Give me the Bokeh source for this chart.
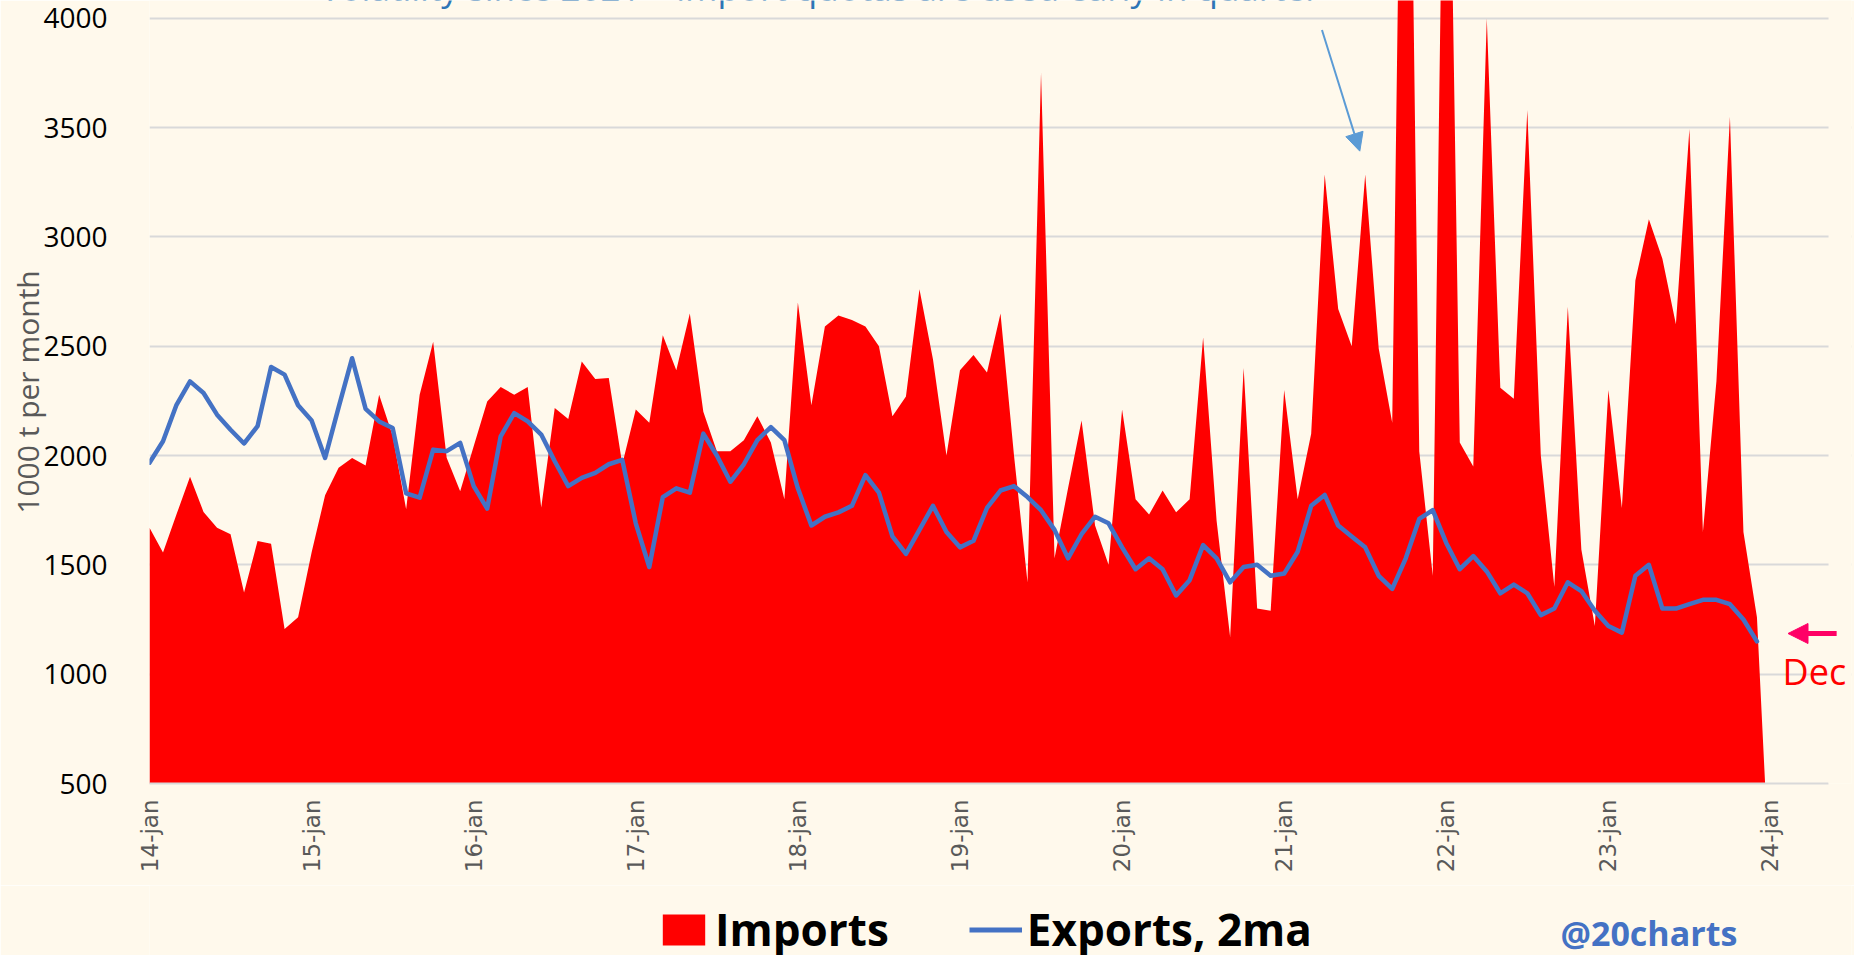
import math
from bokeh.plotting import figure
from bokeh.layouts import column
from bokeh.models import (Range1d, FixedTicker, Legend, LegendItem, Label,
                          Arrow, NormalHead, BoxAnnotation)
from bokeh.embed import file_html
from bokeh.resources import INLINE

# ---- data (1000 t per month), monthly Jan 2014 .. Dec 2023 (+ Jan 2024 empty) ----
months = list(range(121))
imports = [
    1670, 1557, 1731, 1903, 1742, 1670, 1640, 1374, 1609, 1597, 1207, 1260,   # 2014
    1557, 1818, 1944, 1989, 1954, 2278, 2090, 1754, 2278, 2520, 1990, 1837,   # 2015
    2042, 2247, 2313, 2278, 2313, 1762, 2217, 2167, 2430, 2350, 2355, 1960,   # 2016
    2210, 2150, 2550, 2390, 2650, 2200, 2020, 2020, 2070, 2180, 2060, 1800,   # 2017
    2700, 2230, 2590, 2640, 2620, 2590, 2500, 2180, 2270, 2760, 2440, 2000,   # 2018
    2390, 2460, 2380, 2650, 2000, 1420, 3750, 1530, 1850, 2160, 1680, 1500,   # 2019
    2210, 1800, 1730, 1840, 1740, 1800, 2540, 1700, 1170, 2400, 1300, 1290,   # 2020
    2300, 1800, 2100, 3285, 2670, 2500, 3285, 2490, 2150, 6800, 2020, 1450,   # 2021
    6000, 2060, 1950, 4000, 2310, 2260, 3580, 2000, 1400, 2680, 1570, 1220,   # 2022
    2300, 1760, 2800, 3080, 2900, 2600, 3493, 1650, 2340, 3549, 1650, 1260,   # 2023
    0,                                                                        # 2024-01
]
exports_2ma = [
    1967, 2065, 2232, 2339, 2286, 2187, 2118, 2055, 2134, 2405, 2370, 2230,
    2160, 1989, 2220, 2445, 2213, 2156, 2126, 1827, 1807, 2027, 2020, 2058,
    1860, 1757, 2088, 2194, 2156, 2096, 1974, 1860, 1898, 1921, 1960, 1980,
    1690, 1490, 1810, 1850, 1830, 2100, 2000, 1880, 1960, 2070, 2130, 2070,
    1850, 1680, 1720, 1740, 1770, 1910, 1830, 1630, 1550, 1660, 1770, 1650,
    1580, 1610, 1760, 1840, 1860, 1810, 1750, 1660, 1530, 1640, 1720, 1690,
    1580, 1480, 1530, 1480, 1360, 1430, 1590, 1530, 1420, 1490, 1500, 1450,
    1460, 1560, 1770, 1820, 1680, 1630, 1580, 1450, 1390, 1530, 1710, 1750,
    1600, 1480, 1540, 1470, 1370, 1410, 1370, 1270, 1300, 1420, 1380, 1290,
    1220, 1190, 1450, 1500, 1300, 1300, 1320, 1340, 1340, 1320, 1250, 1150,
]
year_ticks = [0, 12, 24, 36, 48, 60, 72, 84, 96, 108, 120]
year_labels = ["14-jan", "15-jan", "16-jan", "17-jan", "18-jan", "19-jan",
               "20-jan", "21-jan", "22-jan", "23-jan", "24-jan"]
y_ticks = [500, 1000, 1500, 2000, 2500, 3000, 3500, 4000]

BG = "#FFF9EC"
AXIS_END = 124.3

p = figure(width=1854, height=885, output_backend="svg", toolbar_location=None,
           x_range=Range1d(0, 126.0), y_range=Range1d(500, 4081),
           background_fill_color=BG, border_fill_color=BG,
           min_border_top=0, min_border_left=149, min_border_right=3,
           min_border_bottom=102, outline_line_color=None)

area = p.varea(x=months, y1=0, y2=imports, fill_color="#FF0000", fill_alpha=1)
line = p.line(x=months[:120], y=exports_2ma, line_color="#4472C4", line_width=4.5,
              line_join="round", line_cap="round")

# axes
p.xgrid.grid_line_color = None
p.ygrid.grid_line_color = "#D9D9D9"
p.ygrid.grid_line_width = 2
p.yaxis.ticker = FixedTicker(ticks=y_ticks)
p.yaxis.axis_line_color = None
p.yaxis.major_tick_line_color = None
p.yaxis.minor_tick_line_color = None
p.yaxis.major_label_standoff = 36
p.yaxis.major_label_text_font = "Open Sans"
p.yaxis.major_label_text_font_size = "28px"
p.yaxis.major_label_text_color = "#000000"
p.yaxis.axis_label = "1000 t per month"
p.yaxis.axis_label_text_font = "Open Sans"
p.yaxis.axis_label_text_font_style = "normal"
p.yaxis.axis_label_text_font_size = "30px"
p.yaxis.axis_label_text_color = "#595959"
p.yaxis.axis_label_standoff = -8

p.xaxis.ticker = FixedTicker(ticks=year_ticks)
p.xaxis.bounds = (0, AXIS_END)
p.xaxis.major_label_overrides = {t: l for t, l in zip(year_ticks, year_labels)}
p.xaxis.major_label_orientation = math.pi / 2
p.xaxis.major_label_text_font = "DejaVu Sans"
p.xaxis.major_label_text_font_size = "23px"
p.xaxis.major_label_text_color = "#595959"
p.xaxis.major_label_standoff = 10
p.xaxis.major_tick_line_color = None
p.xaxis.minor_tick_line_color = None
p.xaxis.axis_line_color = "#D9D9D9"
p.xaxis.axis_line_width = 2

# blank strip right of the plot area (gridlines stop at the axis end)
p.add_layout(BoxAnnotation(left=AXIS_END, fill_color=BG, fill_alpha=1, line_color=None))

# annotations
p.add_layout(Label(x=12.6, y=796, y_units="screen",
                   text="Volatility since 2021 \u2013 import quotas are used early in quarter",
                   text_font="Open Sans", text_font_size="35px", text_color="#2E75B6",
                   text_baseline="alphabetic"))
p.add_layout(Arrow(x_start=86.8, y_start=3946, x_end=89.6, y_end=3392,
                   line_color="#5B9BD5", line_width=2,
                   end=NormalHead(size=18, fill_color="#5B9BD5", line_color="#5B9BD5")))
p.add_layout(Arrow(x_start=124.9, y_start=1186, x_end=121.3, y_end=1186,
                   line_color="#FF0066", line_width=5,
                   end=NormalHead(size=20, fill_color="#FF0066", line_color="#FF0066")))
p.add_layout(Label(x=120.9, y=1013, text="Dec", text_font="Open Sans",
                   text_font_size="36px", text_color="#FF0000",
                   text_baseline="middle"))

# ---- bottom strip: legend and signature ----
p2 = figure(width=1854, height=70, output_backend="svg", toolbar_location=None,
            x_range=Range1d(0, 1854), y_range=Range1d(0, 70),
            x_axis_type=None, y_axis_type=None,
            background_fill_color=BG, border_fill_color=BG,
            min_border=0, outline_line_color=None)
p2.grid.visible = False
leg_area = p2.varea(x=months, y1=0, y2=imports, fill_color="#FF0000", fill_alpha=1,
                    visible=False)
leg_line = p2.line(x=months[:120], y=exports_2ma, line_color="#4472C4", line_width=5,
                   visible=False)
legend = Legend(items=[LegendItem(label="Imports", renderers=[leg_area]),
                       LegendItem(label="Exports, 2ma", renderers=[leg_line])],
                orientation="horizontal", location=(508, -4),
                label_text_font="Open Sans", label_text_font_style="bold",
                label_text_font_size="44px", label_text_color="#000000",
                glyph_width=53, glyph_height=39, label_standoff=5, spacing=80,
                padding=0, margin=0, background_fill_alpha=0, border_line_alpha=0)
p2.add_layout(legend)
p2.add_layout(Label(x=1537, y=23, text="@20charts",
                    text_font="Open Sans", text_font_style="bold",
                    text_font_size="34px", text_color="#4472C4",
                    text_baseline="middle"))

open("out.html", "w").write(file_html(column(p, p2, spacing=0), INLINE))
